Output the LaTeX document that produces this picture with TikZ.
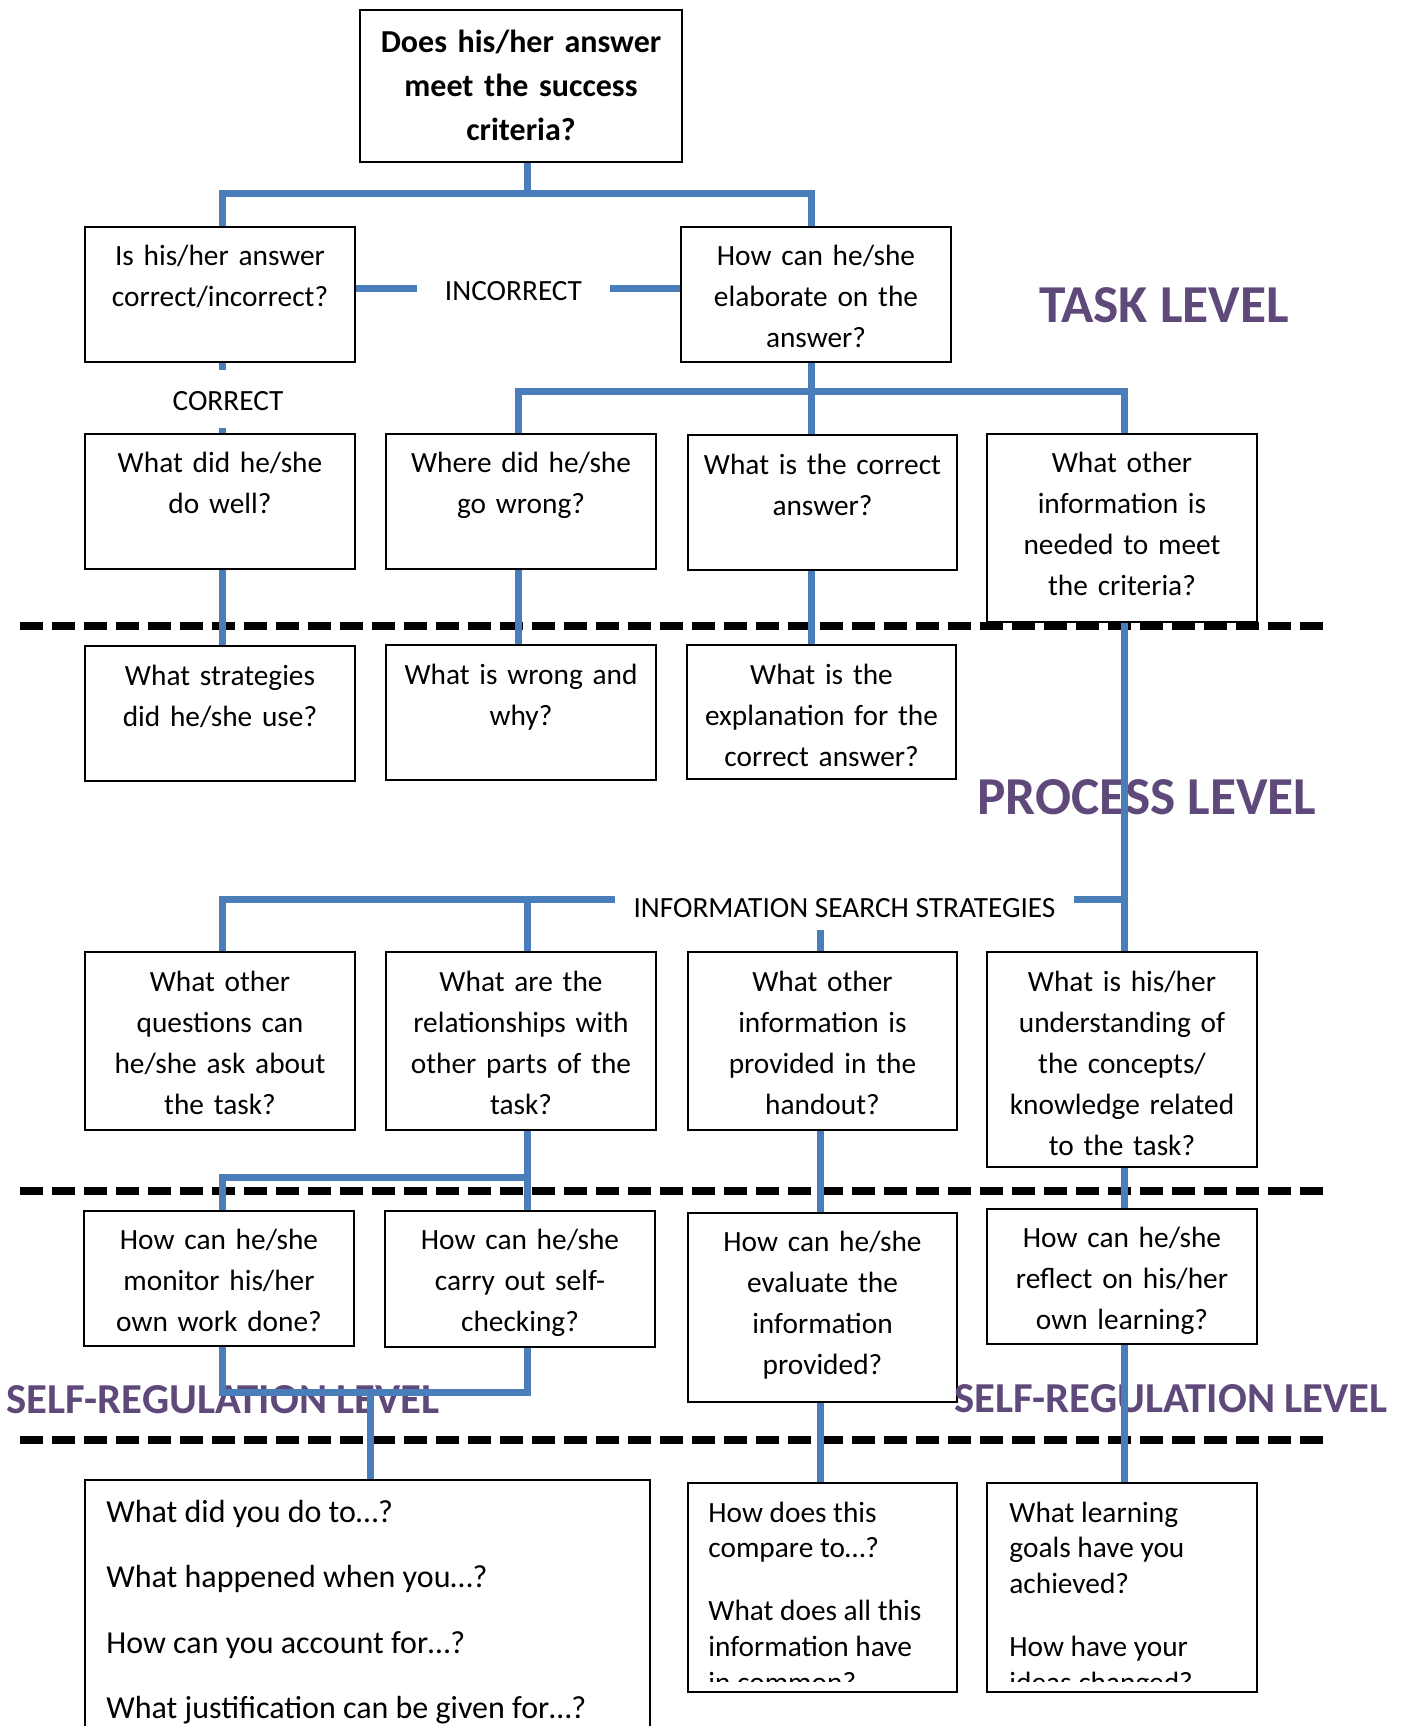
\documentclass[tikz,border=0pt]{standalone}
\usepackage{fontspec}
\setmainfont{Carlito}
\usetikzlibrary{fit}
\definecolor{lineblue}{RGB}{74,126,187}
\definecolor{lvlpurple}{RGB}{95,73,122}
\newcommand\qfont{\fontsize{14.67pt}{20.5pt}\selectfont}
\newcommand\tfont{\fontsize{16pt}{22pt}\selectfont\bfseries}
\newcommand\bfont{\fontsize{16pt}{19pt}\selectfont}
\newcommand\sfont{\fontsize{14.67pt}{17.5pt}\selectfont}
\newcommand\lvlfont{\fontsize{26.67pt}{30pt}\selectfont\bfseries}
\newcommand\srfont{\fontsize{21.33pt}{25pt}\selectfont\bfseries}
\begin{document}
\begin{tikzpicture}[x=0.5pt,y=-0.5pt,
  qbox/.style={draw=black, line width=1pt, fill=white, inner sep=0pt},
  qt/.style={font=\qfont, align=center, text width=135pt, inner sep=0pt, anchor=north, execute at begin node={\noindent\strut}},
  lbl/.style={font=\qfont, inner sep=0pt},
  lvl/.style={font=\lvlfont, text=lvlpurple, inner sep=0pt},
  srl/.style={font=\srfont, text=lvlpurple, inner sep=0pt},
  bl/.style={font=\bfont, anchor=base west, inner sep=0pt},
  sl/.style={font=\sfont, anchor=base west, inner sep=0pt},
  conn/.style={draw=lineblue, line width=3.5pt},
  dashline/.style={draw=black, line width=4pt, dash pattern=on 11.5pt off 4.5pt}]
\path[fill=white] (0,0) rectangle (1403,1726);
\useasboundingbox (0,0) rectangle (1403,1726);

% ---------- boxes ----------
\node[qbox, fit={(360,9.5) (682,162)}] (top) {};
\node[qt, font=\tfont, text width=161pt] (topt) at ([yshift=-6.3pt]top.north) {Does his/her answer\\meet the success\\criteria?};

\node[qbox, fit={(85,227) (355,362)}] (isb) {};
\node[qt] (isbt) at ([yshift=-5.15pt]isb.north) {Is his/her answer\\correct/incorrect?};
\node[qbox, fit={(681,227) (951,362)}] (elab) {};
\node[qt] (elabt) at ([yshift=-5.15pt]elab.north) {How can he/she\\elaborate on the\\answer?};

\node[qbox, fit={(85,433.5) (355,569)}] (w1) {};
\node[qt] (w1t) at ([yshift=-5.65pt]w1.north) {What did he/she\\do well?};
\node[qbox, fit={(386,433.5) (656,568.5)}] (w2) {};
\node[qt] (w2t) at ([yshift=-5.65pt]w2.north) {Where did he/she\\go wrong?};
\node[qbox, fit={(688,435) (957,570)}] (w3) {};
\node[qt] (w3t) at ([yshift=-5.65pt]w3.north) {What is the correct\\answer?};
\node[qbox, fit={(987,433.5) (1257,622)}] (w4) {};
\node[qt] (w4t) at ([yshift=-5.65pt]w4.north) {What other\\information is\\needed to meet\\the criteria?};

\node[qbox, fit={(85,646) (355,781)}] (p1) {};
\node[qt] (p1t) at ([yshift=-5.65pt]p1.north) {What strategies\\did he/she use?};
\node[qbox, fit={(386,645) (656,780)}] (p2) {};
\node[qt] (p2t) at ([yshift=-5.65pt]p2.north) {What is wrong and\\why?};
\node[qbox, fit={(687,645) (956,779)}] (p3) {};
\node[qt] (p3t) at ([yshift=-5.65pt]p3.north) {What is the\\explanation for the\\correct answer?};

\node[qbox, fit={(85,952) (355,1130)}] (s1) {};
\node[qt] (s1t) at ([yshift=-5.65pt]s1.north) {What other\\questions can\\he/she ask about\\the task?};
\node[qbox, fit={(386,952) (656,1130)}] (s2) {};
\node[qt] (s2t) at ([yshift=-5.65pt]s2.north) {What are the\\relationships with\\other parts of the\\task?};
\node[qbox, fit={(688,952) (957,1130)}] (s3) {};
\node[qt] (s3t) at ([yshift=-5.65pt]s3.north) {What other\\information is\\provided in the\\handout?};
\node[qbox, fit={(987,952) (1257,1167)}] (s4) {};
\node[qt] (s4t) at ([yshift=-5.65pt]s4.north) {What is his/her\\understanding of\\the concepts/\\knowledge related\\to the task?};

\node[qbox, fit={(84,1211) (354,1346)}] (r1) {};
\node[qt] (r1t) at ([yshift=-5.15pt]r1.north) {How can he/she\\monitor his/her\\own work done?};
\node[qbox, fit={(385,1211) (655,1347)}] (r2) {};
\node[qt] (r2t) at ([yshift=-5.15pt]r2.north) {How can he/she\\carry out self-\\checking?};
\node[qbox, fit={(688,1213) (957,1402)}] (r3) {};
\node[qt] (r3t) at ([yshift=-5.15pt]r3.north) {How can he/she\\evaluate the\\information\\provided?};
\node[qbox, fit={(987,1209) (1257,1344)}] (r4) {};
\node[qt] (r4t) at ([yshift=-5.15pt]r4.north) {How can he/she\\reflect on his/her\\own learning?};

\node[qbox, fit={(85,1480) (650,1770)}] (g1) {};
\node[bl] (g1a) at (106,1522) {What did you do to…?};
\node[bl] (g1b) at (106,1587) {What happened when you…?};
\node[bl] (g1c) at (106,1653) {How can you account for…?};
\node[bl] (g1d) at (106,1718) {What justification can be given for…?};

\node[qbox, fit={(688,1483) (957,1692)}] (g2) {};
\node[qbox, fit={(987,1483) (1257,1692)}] (g3) {};
\begin{scope}
\clip (688,1483) rectangle (957,1681);
\node[sl] (g2a) at (708,1522) {How does this};
\node[sl] (g2b) at (708,1557.5) {compare to…?};
\node[sl] (g2c) at (708,1620) {What does all this};
\node[sl] (g2d) at (708,1656) {information have};
\node[sl] (g2e) at (708,1692) {in common?};
\end{scope}
\begin{scope}
\clip (987,1483) rectangle (1257,1681);
\node[sl] (g3a) at (1009,1522) {What learning};
\node[sl] (g3b) at (1009,1557.5) {goals have you};
\node[sl] (g3c) at (1009,1593) {achieved?};
\node[sl] (g3d) at (1009,1656) {How have your};
\node[sl] (g3e) at (1009,1692) {ideas changed?};
\end{scope}

% ---------- labels ----------
\node[lbl, inner xsep=14pt] (inc) at (513.5,291) {INCORRECT};
\node[lbl] (cor) at (228,401) {CORRECT};
\node[lbl, inner xsep=9pt] (iss) at (844.5,908) {INFORMATION SEARCH STRATEGIES};
\node[lvl] (tasklvl) at (1164,305.5) {TASK LEVEL};
\node[lvl] (proclvl) at (1147,797) {PROCESS LEVEL};
\node[srl] (srleft) at (223,1399.5) {SELF-REGULATION LEVEL};
\node[srl] (srright) at (1171,1399) {SELF-REGULATION LEVEL};

% ---------- dashed separators ----------
\draw[dashline] (20,625.5) -- (1324,625.5);
\draw[dashline] (20,1191) -- (1324,1191);
\draw[dashline] (20,1440) -- (1324,1440);

% ---------- connectors ----------
\coordinate (x1) at (222.5,0);
\coordinate (x2) at (518,0);
\coordinate (x2b) at (527,0);
\coordinate (x3) at (811.5,0);
\coordinate (x3b) at (820,0);
\coordinate (x4) at (1124,0);
\coordinate (yi) at (0,288);
\coordinate (yb) at (0,899);
\coordinate (j0) at (527,193);
\coordinate (j1) at (811.5,391.5);
\coordinate (j2) at (527,1177);
\coordinate (j3) at (370,1392.5);

\draw[conn] (top.south -| j0) -- (j0);
\draw[conn] (isb.north -| x1) |- (j0) -| (elab.north -| x3);
\draw[conn] (isb.east |- yi) -- (inc.west |- yi);
\draw[conn] (inc.east |- yi) -- (elab.west |- yi);
\draw[conn] (isb.south -| x1) -- ++(0,7);
\draw[conn] (w1.north -| x1) -- ++(0,-5);

\draw[conn] (elab.south -| x3) -- (w3.north -| x3);
\draw[conn] (w2.north -| x2) |- (j1) -| (w4.north -| x4);

\draw[conn] (w1.south -| x1) -- (p1.north -| x1);
\draw[conn] (w2.south -| x2) -- (p2.north -| x2);
\draw[conn] (w3.south -| x3) -- (p3.north -| x3);

\draw[conn] (w4.south -| x4) -- (s4.north -| x4);
\draw[conn] (iss.east |- yb) -- (yb -| x4);
\draw[conn] (s1.north -| x1) |- (iss.west |- yb);
\draw[conn] (x2b |- yb) -- (s2.north -| x2b);
\draw[conn] (s3.north -| x3b) -- ++(0,-21);

\draw[conn] (s2.south -| x2b) -- (r2.north -| x2b);
\draw[conn] (r1.north -| x1) |- (j2);
\draw[conn] (s3.south -| x3b) -- (r3.north -| x3b);
\draw[conn] (s4.south -| x4) -- (r4.north -| x4);

\draw[conn] (r1.south -| x1) |- (j3) -| (r2.south -| x2b);
\draw[conn] (j3) -- (g1.north -| j3);
\draw[conn] (r3.south -| x3b) -- (g2.north -| x3b);
\draw[conn] (r4.south -| x4) -- (g3.north -| x4);
\end{tikzpicture}
\end{document}
